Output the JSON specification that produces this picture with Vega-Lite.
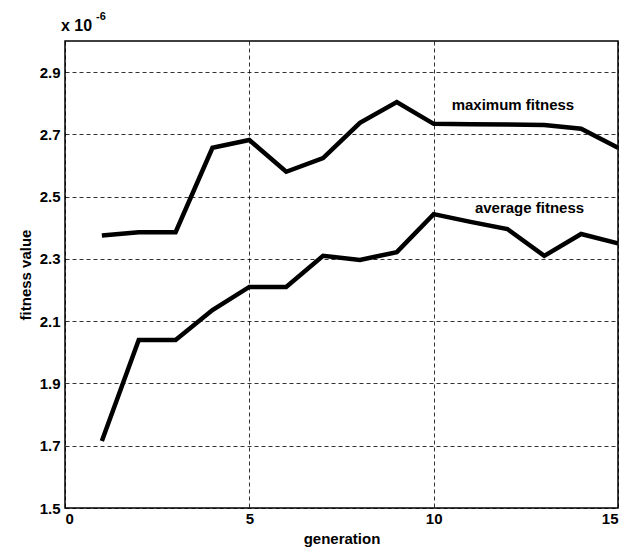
{
  "$schema": "https://vega.github.io/schema/vega-lite/v6.json",
  "width": 553,
  "height": 467,
  "autosize": {"type": "none"},
  "padding": {"left": 65, "top": 41, "right": 10, "bottom": 51},
  "background": "white",
  "config": {
    "font": "Liberation Sans",
    "view": {"stroke": "black", "strokeWidth": 1.5},
    "axis": {
      "grid": true,
      "gridColor": "black",
      "gridDash": [4, 3],
      "gridWidth": 1,
      "gridOpacity": 0.8,
      "domain": false,
      "ticks": false,
      "labelFont": "Liberation Sans",
      "labelFontWeight": "bold",
      "labelFontSize": 15,
      "labelColor": "black",
      "titleFont": "Liberation Sans",
      "titleFontWeight": "bold",
      "titleFontSize": 15,
      "titleColor": "black"
    }
  },
  "datasets": {
    "fit": [
      {"generation": 1, "value": 2.375, "series": "maximum"},
      {"generation": 2, "value": 2.386, "series": "maximum"},
      {"generation": 3, "value": 2.386, "series": "maximum"},
      {"generation": 4, "value": 2.657, "series": "maximum"},
      {"generation": 5, "value": 2.682, "series": "maximum"},
      {"generation": 6, "value": 2.58, "series": "maximum"},
      {"generation": 7, "value": 2.624, "series": "maximum"},
      {"generation": 8, "value": 2.737, "series": "maximum"},
      {"generation": 9, "value": 2.804, "series": "maximum"},
      {"generation": 10, "value": 2.734, "series": "maximum"},
      {"generation": 11, "value": 2.733, "series": "maximum"},
      {"generation": 12, "value": 2.732, "series": "maximum"},
      {"generation": 13, "value": 2.73, "series": "maximum"},
      {"generation": 14, "value": 2.718, "series": "maximum"},
      {"generation": 15, "value": 2.657, "series": "maximum"},
      {"generation": 1, "value": 1.715, "series": "average"},
      {"generation": 2, "value": 2.04, "series": "average"},
      {"generation": 3, "value": 2.04, "series": "average"},
      {"generation": 4, "value": 2.136, "series": "average"},
      {"generation": 5, "value": 2.21, "series": "average"},
      {"generation": 6, "value": 2.21, "series": "average"},
      {"generation": 7, "value": 2.31, "series": "average"},
      {"generation": 8, "value": 2.297, "series": "average"},
      {"generation": 9, "value": 2.322, "series": "average"},
      {"generation": 10, "value": 2.444, "series": "average"},
      {"generation": 11, "value": 2.419, "series": "average"},
      {"generation": 12, "value": 2.396, "series": "average"},
      {"generation": 13, "value": 2.31, "series": "average"},
      {"generation": 14, "value": 2.38, "series": "average"},
      {"generation": 15, "value": 2.35, "series": "average"}
    ],
    "labels": [
      {"generation": 12.15, "value": 2.795, "text": "maximum fitness"},
      {"generation": 12.6, "value": 2.464, "text": "average fitness"}
    ],
    "scale": [
      {"generation": 0, "value": 3.0, "text": "x 10", "sup": "-6"}
    ]
  },
  "layer": [
    {
      "data": {"name": "fit"},
      "mark": {"type": "line", "color": "black", "strokeWidth": 4.5, "strokeJoin": "miter"},
      "encoding": {
        "x": {
          "field": "generation", "type": "quantitative",
          "scale": {"domain": [0, 15], "nice": false},
          "axis": {"values": [0, 5, 10, 15], "title": "generation", "titlePadding": 5, "labelPadding": 3}
        },
        "y": {
          "field": "value", "type": "quantitative",
          "scale": {"domain": [1.5, 3.0], "nice": false, "zero": false},
          "axis": {"values": [1.5, 1.7, 1.9, 2.1, 2.3, 2.5, 2.7, 2.9], "format": ".1f", "title": "fitness value", "titlePadding": 6, "labelPadding": 5}
        },
        "detail": {"field": "series"}
      }
    },
    {
      "data": {"name": "labels"},
      "mark": {"type": "text", "font": "Liberation Sans", "fontSize": 15, "fontWeight": "bold", "color": "black", "align": "center", "baseline": "middle"},
      "encoding": {
        "x": {"field": "generation", "type": "quantitative"},
        "y": {"field": "value", "type": "quantitative"},
        "text": {"field": "text"}
      }
    },
    {
      "data": {"name": "scale"},
      "mark": {"type": "text", "font": "Liberation Sans", "fontSize": 16, "fontWeight": "bold", "color": "black", "align": "left", "baseline": "alphabetic", "dx": -4, "dy": -10, "clip": false},
      "encoding": {
        "x": {"field": "generation", "type": "quantitative"},
        "y": {"field": "value", "type": "quantitative"},
        "text": {"field": "text"}
      }
    },
    {
      "data": {"name": "scale"},
      "mark": {"type": "text", "font": "Liberation Sans", "fontSize": 11, "fontWeight": "bold", "color": "black", "align": "left", "baseline": "alphabetic", "dx": 31, "dy": -21, "clip": false},
      "encoding": {
        "x": {"field": "generation", "type": "quantitative"},
        "y": {"field": "value", "type": "quantitative"},
        "text": {"field": "sup"}
      }
    }
  ]
}
